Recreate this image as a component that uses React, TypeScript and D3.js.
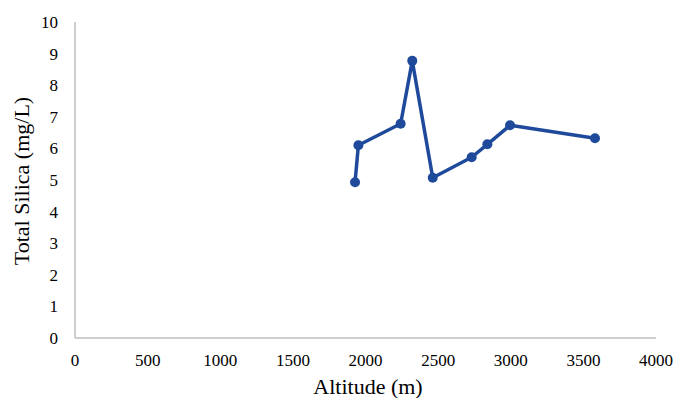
import React from "react";
import * as d3 from "d3";

const altitude = [1928, 1951, 2242, 2322, 2463, 2731, 2839, 2995, 3580];
const silica = [4.93, 6.1, 6.78, 8.77, 5.07, 5.72, 6.13, 6.73, 6.32];
const xTicks = [0, 500, 1000, 1500, 2000, 2500, 3000, 3500, 4000];
const yTicks = [0, 1, 2, 3, 4, 5, 6, 7, 8, 9, 10];

export default function App() {
  const W = 675, H = 398;
  const x = d3.scaleLinear().domain([0, 4000]).range([75, 656]);
  const y = d3.scaleLinear().domain([0, 10]).range([338, 22]);
  const pts: [number, number][] = altitude.map((a, i) => [x(a), y(silica[i])]);
  const line = d3.line()(pts) || "";
  const font = "'Liberation Serif', 'Times New Roman', serif";
  const color = "#1F4A9B";
  return (
    <svg width={W} height={H} style={{ position: "absolute", left: 0, top: 0 }}>
      <rect width={W} height={H} fill="#fff" />
      <line x1={x(0)} x2={x(0)} y1={y(10)} y2={y(0)} stroke="#bfbfbf" strokeWidth={1.5} />
      <line x1={x(0)} x2={x(4000)} y1={y(0)} y2={y(0)} stroke="#bfbfbf" strokeWidth={1.5} />
      {yTicks.map((t) => (
        <text key={t} x={58} y={y(t)} dy="0.35em" textAnchor="end" fontFamily={font} fontSize={17} fill="#000">
          {t}
        </text>
      ))}
      {xTicks.map((t) => (
        <text key={t} x={x(t)} y={360} dy="0.35em" textAnchor="middle" fontFamily={font} fontSize={17} fill="#000">
          {t}
        </text>
      ))}
      <text x={368} y={386} dy="0.35em" textAnchor="middle" fontFamily={font} fontSize={22} fill="#000">
        Altitude (m)
      </text>
      <text
        transform={`translate(21,181) rotate(-90)`}
        dy="0.35em"
        textAnchor="middle"
        fontFamily={font}
        fontSize={22}
        fill="#000"
      >
        Total Silica (mg/L)
      </text>
      <path d={line} fill="none" stroke={color} strokeWidth={3.5} strokeLinejoin="round" />
      {pts.map((p, i) => (
        <circle key={i} cx={p[0]} cy={p[1]} r={5} fill={color} />
      ))}
    </svg>
  );
}
